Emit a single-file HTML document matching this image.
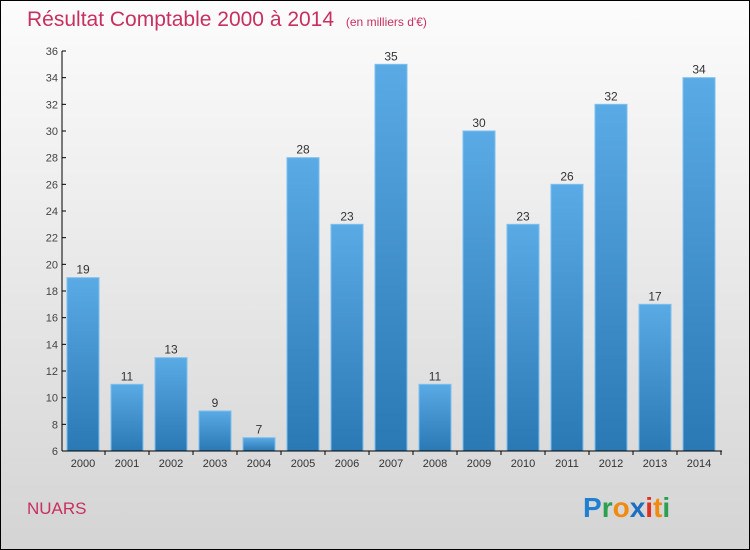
<!DOCTYPE html>
<html><head><meta charset="utf-8"><style>
body{margin:0}
#c{position:relative;width:748px;height:548px;border:1px solid #000;background:linear-gradient(#fcfcfc,#d4d4d4);font-family:"Liberation Sans",sans-serif;overflow:hidden}
</style></head><body>
<div id="c">
<svg id="s" width="748" height="548" style="position:absolute;left:0;top:0">
<defs><linearGradient id="bg" x1="0" x2="0" y1="0" y2="1"><stop offset="0" stop-color="#5aaae6"/><stop offset="1" stop-color="#2a78b4"/></linearGradient></defs>
<text x="26" y="25" font-size="21" fill="#c8305f">Résultat Comptable 2000 à 2014 <tspan font-size="12" dx="6">(en milliers d'€)</tspan></text>
<text x="26" y="513" font-size="17" fill="#c8305f">NUARS</text>
<text x="582" y="516" font-size="28" font-weight="bold"><tspan fill="#1f7fd0">P</tspan><tspan fill="#2aa050">r</tspan><tspan fill="#f08a10">o</tspan><tspan fill="#1f6fc0">x</tspan><tspan fill="#e03020">i</tspan><tspan fill="#f08a10">t</tspan><tspan fill="#2aa050">i</tspan></text>
<g id="g"></g>
</svg>
</div>
<script>
const categories=["2000","2001","2002","2003","2004","2005","2006","2007","2008","2009","2010","2011","2012","2013","2014"];
const values=[19,11,13,9,7,28,23,35,11,30,23,26,32,17,34];
const yTicks=[6,8,10,12,14,16,18,20,22,24,26,28,30,32,34,36];
const NS="http://www.w3.org/2000/svg";
const g=document.getElementById('g');
const y=v=>450-(v-6)*400/30;
const x=i=>82+i*44;
function mk(t,a){const e=document.createElementNS(NS,t);for(const k in a)e.setAttribute(k,a[k]);g.appendChild(e);return e;}
yTicks.forEach(t=>{
 const l=mk('line',{x1:61,x2:65,y1:y(t),y2:y(t),stroke:'#000'});
 
 
 const tx=mk('text',{x:57,y:y(t)+4,'font-size':11,fill:'#444','text-anchor':'end'});tx.textContent=t;
 
 
});
values.forEach((v,i)=>{
 const r=mk('rect',{x:x(i)-16,y:y(v),width:32,height:450-y(v),fill:'url(#bg)',stroke:'#7cc0ee','stroke-width':1});
 
 
 const t=mk('text',{x:x(i),y:y(v)-4,'font-size':12,fill:'#333','text-anchor':'middle'});t.textContent=v;
 
 
 const c=mk('text',{x:x(i),y:466,'font-size':11,fill:'#333','text-anchor':'middle'});c.textContent=categories[i];
 
 
 const tk=mk('line',{x1:x(i)+22,x2:x(i)+22,y1:450,y2:454,stroke:'#000'});
 
 
});
const ya=mk('line',{x1:61,x2:61,y1:50,y2:450,stroke:'#000'});


const xa=mk('line',{x1:61,x2:721,y1:450,y2:450,stroke:'#000'});


</script>
</body></html>
